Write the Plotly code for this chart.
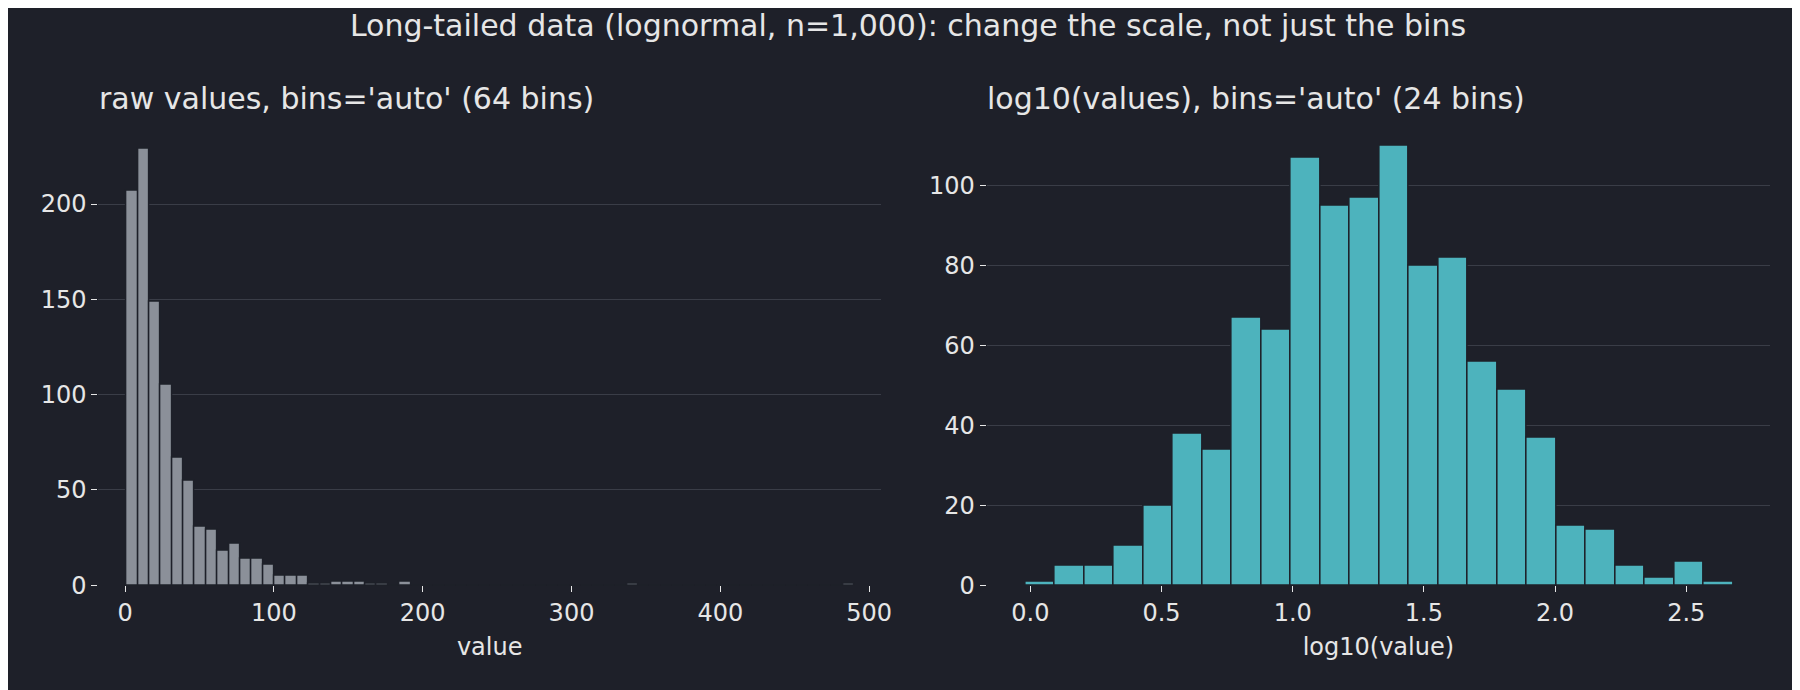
import numpy as np
import plotly.graph_objects as go
from plotly.subplots import make_subplots

# raw histogram: 64 bins over [1, 490]
raw_min, raw_max, raw_nbins = 1.0, 490.0, 64
raw_counts = [207, 229, 149, 105, 67, 55, 31, 29, 18, 22, 14, 14, 11, 5, 5, 5,
              1, 1, 2, 2, 2, 1, 1, 0, 2] + [0] * 19 + [1] + [0] * 18 + [1]

# log10 histogram: 24 bins over [-0.02, 2.68]
log_min, log_max, log_nbins = -0.02, 2.68, 24
log_counts = [1, 5, 5, 10, 20, 38, 34, 67, 64, 107, 95, 97, 110, 80, 82, 56,
              49, 37, 15, 14, 5, 2, 6, 1]

BG = '#1e2029'
GRID = '#3a3d47'
TXT = '#e6e6e6'


def centers(lo, hi, n):
    edges = np.linspace(lo, hi, n + 1)
    return (edges[:-1] + edges[1:]) / 2, edges[1] - edges[0]


fig = make_subplots(rows=1, cols=2, horizontal_spacing=0.06)

xc, w = centers(raw_min, raw_max, raw_nbins)
fig.add_trace(go.Bar(x=xc, y=raw_counts[:raw_nbins], width=w, marker_color='#8b9099',
                     marker_line_color=BG, marker_line_width=1.5), row=1, col=1)
xc, w = centers(log_min, log_max, log_nbins)
fig.add_trace(go.Bar(x=xc, y=log_counts, width=w, marker_color='#4db3bd',
                     marker_line_color=BG, marker_line_width=1.5), row=1, col=2)

axis_common = dict(showline=False, zeroline=False, ticks='outside', ticklen=6,
                   tickcolor=TXT, tickfont=dict(size=24, color=TXT))
fig.update_xaxes(showgrid=False, **axis_common)
fig.update_yaxes(showgrid=True, gridcolor=GRID, gridwidth=1, **axis_common)

fig.update_xaxes(domain=[0.0505, 0.488], range=[-18, 508], tickvals=[0, 100, 200, 300, 400, 500],
                 title=dict(text='value', font=dict(size=24, color=TXT), standoff=12), row=1, col=1)
fig.update_yaxes(domain=[0.146, 0.82], range=[0, 239], tickvals=[0, 50, 100, 150, 200], row=1, col=1)
fig.update_xaxes(domain=[0.547, 0.985], range=[-0.167, 2.82], tickvals=[0, 0.5, 1, 1.5, 2, 2.5],
                 ticktext=['0.0', '0.5', '1.0', '1.5', '2.0', '2.5'],
                 title=dict(text='log10(value)', font=dict(size=24, color=TXT), standoff=12), row=1, col=2)
fig.update_yaxes(domain=[0.146, 0.82], range=[0, 114], tickvals=[0, 20, 40, 60, 80, 100], row=1, col=2)

fig.update_layout(
    width=1800, height=690,
    paper_bgcolor=BG, plot_bgcolor=BG,
    font=dict(family='DejaVu Sans', color=TXT),
    showlegend=False, bargap=0,
    margin=dict(l=0, r=0, t=0, b=0),
    title=dict(text="Long-tailed data (lognormal, n=1,000): change the scale, not just the bins",
               x=0.5, xanchor='center', y=0.975, yanchor='middle', font=dict(size=30, color=TXT)),
    annotations=[
        dict(text="raw values, bins='auto' (64 bins)", xref='paper', yref='paper', x=0.05, y=0.866,
             xanchor='left', yanchor='middle', showarrow=False, font=dict(size=30, color=TXT)),
        dict(text="log10(values), bins='auto' (24 bins)", xref='paper', yref='paper', x=0.546, y=0.866,
             xanchor='left', yanchor='middle', showarrow=False, font=dict(size=30, color=TXT)),
    ],
)

fig.write_html("out.html")
